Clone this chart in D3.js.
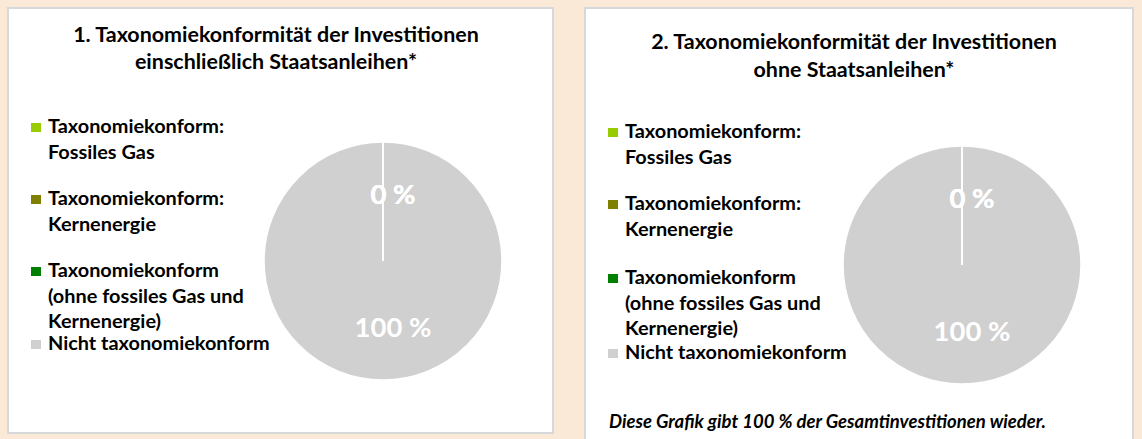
<!DOCTYPE html>
<html lang="de">
<head>
<meta charset="UTF-8">
<title>Taxonomiekonformität der Investitionen</title>
<script src="https://d3js.org/d3.v7.min.js"></script>
<style>
    body { margin: 0; background: #fbe9d7; }
    svg { display: block; }
    text { font-family: Lato, "Open Sans", Arial, sans-serif; font-weight: bold; }
</style>
</head>
<body>
<svg width="1142" height="439"></svg>
<script>
// chart data
const categories = [
    ["Taxonomiekonform:", "Fossiles Gas"],
    ["Taxonomiekonform:", "Kernenergie"],
    ["Taxonomiekonform", "(ohne fossiles Gas und", "Kernenergie)"],
    ["Nicht taxonomiekonform"]
];
const colors = ["#99cc00", "#808000", "#008000", "#d0d0d0"];
const valuesInclBonds = [0, 0, 0, 100];
const valuesExclBonds = [0, 0, 0, 100];
const titleIncl = ["1. Taxonomiekonformität der Investitionen", "einschließlich Staatsanleihen*"];
const titleExcl = ["2. Taxonomiekonformität der Investitionen", "ohne Staatsanleihen*"];
const footnote = "Diese Grafik gibt 100 % der Gesamtinvestitionen wieder.";

const svg = d3.select("svg");

// scale font-size so the text is as wide as in the original
function fit(sel, w) {
    const cur = sel.node().getComputedTextLength();
    const fs = parseFloat(sel.attr("font-size"));
    return fs * w / cur;
}

const panels = [
    { x: 8, y: 8, w: 545, h: 425, title: titleIncl, values: valuesInclBonds,
      titleX: 276, titleY: [41.5, 69], legX: 31, legY: 133, slots: [0, 72, 144, 217], cx: 383, cy: 261 },
    { x: 585, y: 8, w: 548, h: 445, title: titleExcl, values: valuesExclBonds,
      titleX: 854, titleY: [49, 77], legX: 608, legY: 138, slots: [0, 72, 146, 221], cx: 962, cy: 265 }
];

const r = 119;
const lineH = 25.5;

// measure font sizes once
const probe = svg.append("text").attr("font-size", 20).text(titleIncl[0]);
const titleSize = fit(probe, 406);
probe.text("Nicht taxonomiekonform");
const legendSize = fit(probe, 222);
probe.text("100 %");
const labelSize = fit(probe, 77);
probe.remove();

const pie = d3.pie().sort(null).value(d => d);
const arc = d3.arc().innerRadius(0).outerRadius(r);
const labelArc = d3.arc().innerRadius(r * 0.56).outerRadius(r * 0.56);

panels.forEach(p => {
    const g = svg.append("g");

    g.append("rect")
        .attr("x", p.x).attr("y", p.y)
        .attr("width", p.w).attr("height", p.h)
        .attr("fill", "#fff")
        .attr("stroke", "#d6d8db")
        .attr("stroke-width", 2);

    g.selectAll(".title")
        .data(p.title)
        .join("text")
        .attr("class", "title")
        .attr("x", p.titleX)
        .attr("y", (d, i) => p.titleY[i])
        .attr("text-anchor", "middle")
        .attr("font-size", titleSize)
        .attr("fill", "#000")
        .text(d => d);

    // legend
    const leg = g.selectAll(".leg")
        .data(categories)
        .join("g")
        .attr("class", "leg")
        .attr("transform", (d, i) => `translate(${p.legX},${p.legY + p.slots[i]})`);

    leg.append("rect")
        .attr("x", 0).attr("y", -10)
        .attr("width", 10).attr("height", 9)
        .attr("fill", (d, i) => colors[i]);

    leg.selectAll("text")
        .data(d => d)
        .join("text")
        .attr("x", 17)
        .attr("y", (d, i) => i * lineH)
        .attr("font-size", legendSize)
        .attr("fill", "#000")
        .text(d => d);

    // pie
    const arcs = pie(p.values);
    const pg = g.append("g").attr("transform", `translate(${p.cx},${p.cy})`);

    pg.selectAll("path")
        .data(arcs)
        .join("path")
        .attr("d", arc)
        .attr("fill", (d, i) => colors[i])
        .attr("stroke", "#fff")
        .attr("stroke-width", 1.5);

    // empty slices only show as a white border line
    pg.selectAll(".edge")
        .data(arcs.filter(d => d.endAngle === d.startAngle))
        .join("line")
        .attr("class", "edge")
        .attr("x1", 0).attr("y1", 0)
        .attr("x2", d => r * Math.sin(d.startAngle))
        .attr("y2", d => -r * Math.cos(d.startAngle))
        .attr("stroke", "#fff")
        .attr("stroke-width", 1.5);

    pg.selectAll(".lbl")
        .data(arcs)
        .join("text")
        .attr("class", "lbl")
        .attr("transform", d => `translate(${labelArc.centroid(d)})`)
        .attr("dx", 10)
        .attr("dy", "0.35em")
        .attr("text-anchor", "middle")
        .attr("font-size", labelSize)
        .attr("fill", "#fff")
        .text(d => d.data + " %");
});

// footnote of the second panel
const fn = svg.append("text")
    .attr("x", 609)
    .attr("y", 428)
    .attr("font-size", 16)
    .attr("font-style", "italic")
    .attr("fill", "#000")
    .text(footnote);
fn.attr("font-size", fit(fn, 437));
</script>
</body>
</html>
